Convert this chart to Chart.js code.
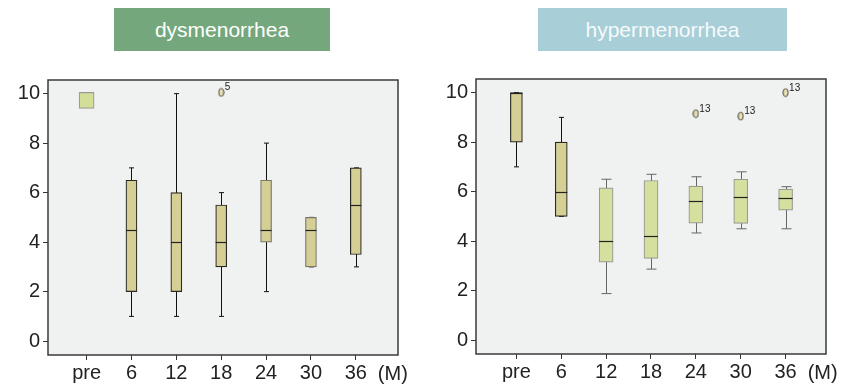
<!DOCTYPE html>
<html>
<head>
<meta charset="utf-8">
<script src="https://cdn.jsdelivr.net/npm/chart.js@4.4.1/dist/chart.umd.min.js"></script>
<style>
  html, body { margin: 0; padding: 0; background: #fff; }
  body { width: 843px; height: 386px; position: relative; overflow: hidden; font-family: 'Liberation Sans', Arial, sans-serif; }
  .titulo { position: absolute; top: 8px; height: 43px; line-height: 43px; text-align: center; color: #fff; font-size: 21px; }
  #t1 { left: 114px; width: 216px; background: #74a77b; }
  #t2 { left: 538px; width: 249px; background: #a8cfd7; color: #f6fafb; }
  canvas { position: absolute; top: 0; }
  #c1 { left: 0; }
  #c2 { left: 423px; }
</style>
</head>
<body>
<div class="titulo" id="t1">dysmenorrhea</div>
<div class="titulo" id="t2">hypermenorrhea</div>
<canvas id="c1" width="421" height="386"></canvas>
<canvas id="c2" width="420" height="386"></canvas>

<script>
// meses de control (eje x)
const months = ['pre', '6', '12', '18', '24', '30', '36'];
const yTicks = [0, 2, 4, 6, 8, 10];

// dysmenorrhea: valores
const dysLow  = [null, 1, 1, 1, 2, 3, 3];
const dysQ1   = [9.4, 2, 2, 3, 4, 3, 3.5];
const dysMed  = [null, 4.5, 4, 4, 4.5, 4.5, 5.5];
const dysQ3   = [10.05, 6.5, 6, 5.5, 6.5, 5, 7];
const dysHigh = [null, 7, 10, 6, 8, 5, 7];
const dysOutX = [3];
const dysOutY = [10.05];
const dysOutLabel = ['5'];

// hypermenorrhea
const hypLow  = [7, 5, 1.88, 2.87, 4.33, 4.5, 4.5];
const hypQ1   = [8, 5, 3.15, 3.3, 4.73, 4.72, 5.25];
const hypMed  = [10, 6, 4, 4.2, 5.62, 5.8, 5.75];
const hypQ3   = [10, 8, 6.15, 6.45, 6.22, 6.5, 6.1];
const hypHigh = [10, 9, 6.5, 6.7, 6.6, 6.8, 6.2];
const hypOutX = [4, 5, 6];
const hypOutY = [9.15, 9.05, 10];
const hypOutLabel = ['13', '13', '13'];

const FONT = "'Liberation Sans', Arial, sans-serif";
const TAN = '#d5cf95';
const GREEN = '#d5e09e';

// el circulito de los outliers es una elipse
const ovalo = document.createElement('canvas');
ovalo.width = 7; ovalo.height = 10;
(function() {
  const g = ovalo.getContext('2d');
  g.fillStyle = '#e6dfb4';
  g.strokeStyle = '#4a4a3e';
  g.lineWidth = 1;
  g.beginPath();
  g.ellipse(3.5, 5, 2.6, 3.9, 0, 0, Math.PI * 2);
  g.fill();
  g.stroke();
})();

function boxPlugin(low, med, high, styles, outLabels) {
  return {
    id: 'cajas',
    beforeDraw(chart) {
      const a = chart.chartArea, c = chart.ctx;
      c.save();
      c.fillStyle = '#f0f1f1';
      c.fillRect(a.left, a.top, a.right - a.left, a.bottom - a.top);
      c.restore();
    },
    beforeDatasetsDraw(chart) {
      // bigotes, detras de las cajas
      const x = chart.scales.x, y = chart.scales.y, c = chart.ctx;
      c.save();
      low.forEach((lo, i) => {
        if (lo === null) return;
        const st = styles[i];
        const px = Math.round(x.getPixelForValue(i)) + 0.5;
        c.strokeStyle = st.whisker;
        c.lineWidth = 1;
        c.beginPath();
        c.moveTo(px, y.getPixelForValue(lo));
        c.lineTo(px, y.getPixelForValue(high[i]));
        c.moveTo(px - st.cap / 2, y.getPixelForValue(lo));
        c.lineTo(px + st.cap / 2, y.getPixelForValue(lo));
        c.moveTo(px - st.cap / 2, y.getPixelForValue(high[i]));
        c.lineTo(px + st.cap / 2, y.getPixelForValue(high[i]));
        c.stroke();
      });
      c.restore();
    },
    afterDatasetsDraw(chart) {
      const x = chart.scales.x, y = chart.scales.y, c = chart.ctx, a = chart.chartArea;
      c.save();
      // medianas
      med.forEach((m, i) => {
        if (m === null) return;
        const st = styles[i];
        const px = x.getPixelForValue(i);
        const py = Math.round(y.getPixelForValue(m)) + 0.5;
        c.strokeStyle = '#222';
        c.lineWidth = 1.2;
        c.beginPath();
        c.moveTo(px - st.w / 2, py);
        c.lineTo(px + st.w / 2, py);
        c.stroke();
      });
      // numeritos de los outliers
      const pts = chart.getDatasetMeta(chart.data.datasets.length - 1).data;
      c.fillStyle = '#222';
      c.font = '10px ' + FONT;
      c.textBaseline = 'alphabetic';
      pts.forEach((p, i) => {
        c.fillText(outLabels[i], p.x + 3.5, p.y - 2);
      });
      // marco
      c.strokeStyle = '#3a3a3a';
      c.lineWidth = 1.5;
      c.strokeRect(a.left, a.top, a.right - a.left, a.bottom - a.top);
      // unidad del eje x
      c.font = '20px ' + FONT;
      c.fillStyle = '#222';
      c.textAlign = 'center';
      c.textBaseline = 'top';
      c.fillText('(M)', x.getPixelForValue(6) + 37, a.bottom + 9);
      c.restore();
    }
  };
}

function makeChart(id, opts) {
  const boxes = opts.q1.map((v, i) => ({ x: i, y: [v, opts.q3[i]] }));
  const ds = [];
  opts.groups.forEach(g => {
    ds.push({
      type: 'bar',
      data: boxes.filter((b, i) => g.idx.includes(i)),
      backgroundColor: g.idx.map(i => opts.styles[i].fill),
      borderColor: g.idx.map(i => opts.styles[i].border),
      borderWidth: 1.2,
      borderSkipped: false,
      barThickness: g.w,
      grouped: false
    });
  });
  ds.push({
    type: 'scatter',
    data: opts.outX.map((v, i) => ({ x: v, y: opts.outY[i] })),
    pointStyle: ovalo,
    pointRadius: 5
  });

  return new Chart(document.getElementById(id), {
    type: 'bar',
    data: { datasets: ds },
    options: {
      responsive: false,
      animation: false,
      events: [],
      layout: { padding: opts.padding },
      plugins: { legend: { display: false }, tooltip: { enabled: false } },
      scales: {
        x: {
          type: 'linear',
          min: opts.xMin,
          max: opts.xMax,
          offset: false,
          afterBuildTicks: s => { s.ticks = months.map((m, i) => ({ value: i })); },
          afterFit: s => { s.height = opts.xHeight; },
          grid: { drawOnChartArea: false, tickLength: 5, color: '#333', offset: false },
          border: { display: false },
          ticks: { color: '#222', font: { family: FONT, size: 20 }, padding: 1, autoSkip: false, maxRotation: 0,
                   callback: v => months[v] }
        },
        y: {
          type: 'linear',
          min: -0.56,
          max: 10.55,
          afterBuildTicks: s => { s.ticks = yTicks.map(v => ({ value: v })); },
          afterFit: s => { s.width = opts.yWidth; },
          grid: { drawOnChartArea: false, tickLength: 5, color: '#333' },
          border: { display: false },
          ticks: { color: '#222', font: { family: FONT, size: 20 }, padding: 3 }
        }
      }
    },
    plugins: [boxPlugin(opts.low, opts.med, opts.high, opts.styles, opts.outLabel)]
  });
}

const dark = { fill: TAN, border: '#2a2a22', whisker: '#111', cap: 5, w: 11 };
const dysStyles = months.map((m, i) => i === 0
  ? { fill: '#d3df99', border: '#9a9c94', whisker: '#111', cap: 5, w: 15 }
  : (i === 4 || i === 5 ? Object.assign({}, dark, { border: '#77776a' }) : dark));

makeChart('c1', {
  q1: dysQ1, q3: dysQ3, low: dysLow, med: dysMed, high: dysHigh,
  outX: dysOutX, outY: dysOutY, outLabel: dysOutLabel,
  styles: dysStyles,
  groups: [{ idx: [0], w: 15 }, { idx: [1, 2, 3, 4, 5, 6], w: 11 }],
  padding: { top: 80, right: 23, left: 0, bottom: 0 },
  xMin: -0.86, xMax: 6.94, xHeight: 31, yWidth: 48
});

const hypStyles = months.map((m, i) => i < 2
  ? { fill: TAN, border: '#2a2a22', whisker: '#111', cap: 5, w: 12 }
  : { fill: GREEN, border: '#9a9c94', whisker: '#666', cap: 10, w: 14 });

makeChart('c2', {
  q1: hypQ1, q3: hypQ3, low: hypLow, med: hypMed, high: hypHigh,
  outX: hypOutX, outY: hypOutY, outLabel: hypOutLabel,
  styles: hypStyles,
  groups: [{ idx: [0, 1], w: 12 }, { idx: [2, 3, 4, 5, 6], w: 14 }],
  padding: { top: 79, right: 17, left: 0, bottom: 0 },
  xMin: -0.9, xMax: 6.9, xHeight: 32, yWidth: 53
});
</script>
</body>
</html>
